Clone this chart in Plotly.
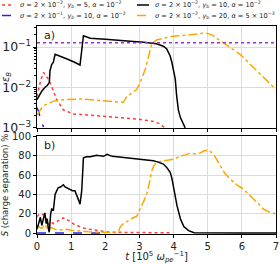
import plotly.graph_objects as go
from plotly.subplots import make_subplots

# ---------- data (panel a: epsilon_B, log scale) ----------
t_red_a = [0, 0.1, 0.19, 0.28, 0.38, 0.48, 0.58, 0.77, 1.07, 1.5, 1.85, 2.4, 2.92, 3.41, 3.6, 3.75]
eps_red_a = [0.0060, 0.0141, 0.0234, 0.0191, 0.0132, 0.0079, 0.0050, 0.0028, 0.0022, 0.0021, 0.0020, 0.0018, 0.00166, 0.00145, 0.00126, 0.0010]

t_blue_a = [0, 0.05, 0.09, 0.14, 0.19]
eps_blue_a = [0.0032, 0.0025, 0.0018, 0.0013, 0.00105]

t_black_a = [0, 0.14, 0.23, 0.3, 0.36, 0.38, 0.43, 0.48, 0.53, 0.6, 0.7, 0.9, 1.1, 1.26, 1.36, 1.56, 2.0, 2.5,
             2.92, 3.2, 3.5, 3.7, 3.8, 3.9, 3.95, 4.0, 4.05, 4.09, 4.14, 4.2, 4.29, 4.34]
eps_black_a = [0.0050, 0.0081, 0.0100, 0.0112, 0.0132, 0.0257, 0.037, 0.042, 0.066, 0.063, 0.058, 0.050, 0.042,
               0.036, 0.19, 0.165, 0.155, 0.145, 0.135, 0.13, 0.12, 0.105, 0.09, 0.06, 0.042, 0.025, 0.016,
               0.0063, 0.0028, 0.0018, 0.0013, 0.0010]

t_orange_a = [0, 0.18, 0.48, 0.8, 1.26, 1.85, 2.34, 2.53, 2.63, 2.77, 2.92, 3.02, 3.17, 3.26, 3.36, 3.5, 3.99,
              4.49, 4.93, 5.12, 5.37, 5.95, 6.44, 7.0]
eps_orange_a = [0.0021, 0.0035, 0.0046, 0.0050, 0.0052, 0.0048, 0.0046, 0.0043, 0.0060, 0.0074, 0.0089, 0.0132,
                0.028, 0.055, 0.12, 0.15, 0.186, 0.20, 0.224, 0.20, 0.145, 0.066, 0.0257, 0.0089]

t_purple = [0, 7]
eps_purple = [0.128, 0.128]

# ---------- data (panel b: charge separation S %) ----------
t_red_b = [0, 0.05, 0.14, 0.23, 0.28, 0.33, 0.4, 0.48, 0.55, 0.62, 0.7, 0.77, 0.85, 0.92, 1.0, 1.11, 1.25, 1.36,
           1.55, 1.75, 1.95, 2.15, 2.5, 3.0, 3.5, 3.9]
s_red_b = [17, 19, 20, 18.5, 14, 9, 12, 10, 11, 13, 14, 16, 15, 13, 11, 8.5, 7, 5.5, 4, 2.6, 1.8, 1, 0.8, 0.6, 0.5, 0.4]

t_blue_b = [0, 0.5, 1.0, 1.5, 1.9]
s_blue_b = [0.3, 0.3, 0.3, 0.3, 0.3]

t_black_b = [0, 0.05, 0.1, 0.14, 0.18, 0.23, 0.27, 0.3, 0.33, 0.36, 0.4, 0.43, 0.48, 0.53, 0.58, 0.62, 0.7, 0.77,
             0.82, 0.87, 0.92, 0.97, 1.04, 1.11, 1.16, 1.21, 1.26, 1.31, 1.36, 1.45, 1.56, 1.65, 1.75, 1.85, 1.95,
             2.05, 2.2, 2.34, 2.5, 2.65, 2.82, 3.02, 3.2, 3.41, 3.55, 3.7, 3.8, 3.9, 3.95, 4.0, 4.05, 4.1, 4.15,
             4.2, 4.3, 4.44, 4.6, 5.0, 6.0, 7.0]
s_black_b = [4, 12, 16.5, 8, 14, 21, 10, 15, 5, 1, 20, 25, 24, 40, 44, 47, 48, 50, 48, 47, 46, 45.7, 44, 44, 40,
             35, 30, 44, 78, 79, 79, 80, 80.7, 80, 79.5, 81.5, 79.5, 79, 78.5, 78, 77, 77, 76, 75, 73.5, 71.5, 68,
             63, 57, 49, 38, 28.5, 21, 15, 7, 2.7, 0.5, 0.3, 0.3, 0.3]

t_orange_b = [0, 0.08, 0.15, 0.23, 0.33, 0.4, 0.48, 0.6, 0.75, 0.87, 1.0, 1.26, 1.5, 1.85, 2.1, 2.34, 2.4, 2.44,
              2.53, 2.63, 2.73, 2.82, 2.92, 3.02, 3.1, 3.2, 3.28, 3.35, 3.42, 3.5, 3.65, 3.9, 4.05, 4.19, 4.35,
              4.49, 4.65, 4.78, 4.88, 5.0, 5.1, 5.2, 5.3, 5.37, 5.5, 5.66, 5.85, 6.05, 6.2, 6.34, 6.5, 6.63, 6.8, 7.0]
s_orange_b = [8.5, 6, 5, 9, 3.6, 6, 5, 3, 3.6, 4, 3, 2, 1.5, 1, 0.8, 0.5, 3, 6.6, 10, 12, 14.7, 16, 17.5, 25, 30,
              38.8, 50, 63, 70, 73, 74.5, 76, 77, 80, 81, 82.7, 82, 83, 85, 86, 84, 80, 74, 69.7, 62, 56, 50,
              45.7, 40, 35.4, 30, 25, 22, 20]

x_ticks = [0, 1, 2, 3, 4, 5, 6, 7]
s_ticks = [0, 20, 40, 60, 80, 100]

legend_order = ["red", "black", "blue", "orange"]
labels = {
    "red": "<i>σ</i> = 2 × 10<sup>−2</sup>, <i>γ<sub>b</sub></i> = 5, <i>α</i> = 10<sup>−2</sup>",
    "blue": "<i>σ</i> = 2 × 10<sup>−1</sup>, <i>γ<sub>b</sub></i> = 10, <i>α</i> = 10<sup>−2</sup>",
    "black": "<i>σ</i> = 2 × 10<sup>−2</sup>, <i>γ</i><sub>b</sub> = 10, <i>α</i> = 10<sup>−2</sup>",
    "orange": "<i>σ</i> = 2 × 10<sup>−2</sup>, <i>γ</i><sub>b</sub> = 20, <i>α</i> = 5 × 10<sup>−3</sup>",
}

COLORS = {"red": "#ff3b3b", "blue": "#2323e8", "black": "#000000", "orange": "#ffa500"}
DASHES = {"red": "dot", "blue": "dash", "black": "solid", "orange": "dashdot"}
PURPLE = "#9b30c8"

FONT = "DejaVu Sans"
TXT = "#222222"

fig = make_subplots(rows=2, cols=1, shared_xaxes=False, vertical_spacing=0.0)

lw = 1.5
series_a = {"red": (t_red_a, eps_red_a), "black": (t_black_a, eps_black_a),
            "blue": (t_blue_a, eps_blue_a), "orange": (t_orange_a, eps_orange_a)}
series_b = {"red": (t_red_b, s_red_b), "blue": (t_blue_b, s_blue_b),
            "orange": (t_orange_b, s_orange_b), "black": (t_black_b, s_black_b)}

for key in ["red", "blue", "orange", "black"]:
    x, y = series_a[key]
    fig.add_trace(go.Scatter(x=x, y=y, mode="lines", showlegend=False,
                             line=dict(color=COLORS[key], width=lw, dash=DASHES[key])), row=1, col=1)
fig.add_trace(go.Scatter(x=t_purple, y=eps_purple, mode="lines", showlegend=False,
                         line=dict(color=PURPLE, width=lw, dash="dot")), row=1, col=1)
for key in ["red", "blue", "orange", "black"]:
    x, y = series_b[key]
    fig.add_trace(go.Scatter(x=x, y=y, mode="lines", showlegend=False,
                             line=dict(color=COLORS[key], width=lw, dash=DASHES[key])), row=2, col=1)

axis_common = dict(showline=True, linecolor="black", linewidth=1, mirror=True,
                   showgrid=True, gridcolor="#dcdcdc", gridwidth=1, zeroline=False,
                   ticks="outside", ticklen=3, tickcolor="black", automargin=False,
                   tickfont=dict(family=FONT, size=10, color=TXT))

fig.update_xaxes(range=[0, 7], tickvals=x_ticks, **axis_common)
fig.update_xaxes(showticklabels=False, row=1, col=1)
fig.update_xaxes(title=dict(text="<i>t</i> [10<sup>5</sup> <i>ω</i><sub><i>pe</i></sub><sup>−1</sup>]",
                            font=dict(family=FONT, size=10, color=TXT), standoff=3), row=2, col=1)

fig.update_yaxes(type="log", range=[-3, -0.48], dtick=1, exponentformat="power",
                 minor=dict(ticks="outside", ticklen=2, tickcolor="black", showgrid=False),
                 title=dict(text="<i>ε<sub>B</sub></i>", font=dict(family=FONT, size=10, color=TXT), standoff=4),
                 row=1, col=1, **axis_common)
fig.update_yaxes(range=[-0.8, 100.5], tickvals=s_ticks,
                 title=dict(text="<i>S</i> (charge separation) %", font=dict(family=FONT, size=8.5, color=TXT),
                            standoff=1),
                 row=2, col=1, **axis_common)

fig.update_layout(
    width=280, height=264,
    margin=dict(l=37, r=4, t=26, b=30),
    plot_bgcolor="white", paper_bgcolor="white",
    font=dict(family=FONT, size=10, color=TXT),
    yaxis=dict(domain=[0.51, 1.0]),
    yaxis2=dict(domain=[0.0, 0.471]),
    showlegend=False,
)

# manual legend (two columns, two rows) placed above the plot area
PLOT_L, PLOT_W, PLOT_B, PLOT_H = 37, 239, 234, 208
legend_pos = {"red": (2, 5), "black": (137, 5), "blue": (2, 15.5), "orange": (137, 15.5)}
for key in legend_order:
    px, py = legend_pos[key]
    x0 = (px - PLOT_L) / PLOT_W
    x1 = (px + 12 - PLOT_L) / PLOT_W
    yy = (PLOT_B - py) / PLOT_H
    fig.add_shape(type="line", xref="paper", yref="paper", x0=x0, x1=x1, y0=yy, y1=yy,
                  line=dict(color=COLORS[key], width=lw, dash=DASHES[key]))
    fig.add_annotation(text=labels[key], xref="paper", yref="paper",
                       x=(px + 16 - PLOT_L) / PLOT_W, y=yy, xanchor="left", yanchor="middle",
                       showarrow=False, font=dict(family=FONT, size=6.6, color=TXT))

fig.add_annotation(text="a)", xref="x domain", yref="y domain", x=0.02, y=0.99, xanchor="left", yanchor="top",
                   showarrow=False, font=dict(family=FONT, size=11, color=TXT))
fig.add_annotation(text="b)", xref="x2 domain", yref="y2 domain", x=0.02, y=0.99, xanchor="left", yanchor="top",
                   showarrow=False, font=dict(family=FONT, size=11, color=TXT))

fig.write_html("out.html", config={"displayModeBar": False},
               post_script="document.body.style.margin='0px';document.body.style.overflow='hidden';")
